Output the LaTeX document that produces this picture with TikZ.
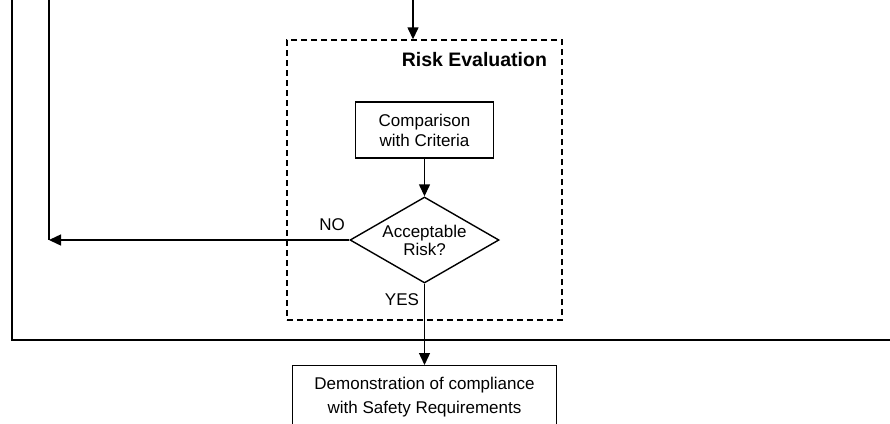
\documentclass[tikz,border=0pt]{standalone}
\usepackage{fontspec}
\setmainfont{Liberation Sans}
\usetikzlibrary{arrows.meta,shapes.geometric}

\begin{document}
\begin{tikzpicture}[x=1pt,y=-1pt,
    line width=1.4pt,
    >={Triangle[length=12pt,width=11pt]},
    box/.style={draw, align=center, font=\fontsize{17}{20}\selectfont},
    decision/.style={draw, diamond, aspect=1.73, inner sep=0pt, minimum width=149pt, minimum height=86pt, align=center, font=\fontsize{17}{18}\selectfont},
    evalbox/.style={draw, dash pattern=on 6pt off 4pt, minimum width=275pt, minimum height=280pt},
    tag/.style={font=\fontsize{17}{20}\selectfont}]
  \useasboundingbox (0,0) rectangle (890,423);
  \draw (12,0) -- (12,340) -- (890,340);
  \node[evalbox] (eval) at (424.5,180) {};
  \node[anchor=east, font=\bfseries\fontsize{19.5}{22}\selectfont] (title) at (551,60) {Risk Evaluation};
  \node[box, minimum width=138pt, minimum height=56pt] (comp) at (424.5,130) {Comparison\\with Criteria};
  \node[decision] (acc) at (424.5,240) {Acceptable\\Risk?};
  \node[box, anchor=north, minimum width=264pt, inner ysep=11.5pt, font=\fontsize{17}{24}\selectfont] (demo) at (424.5,365) {Demonstration of compliance\\with Safety Requirements};
  \coordinate (top) at (413,0);
  \coordinate (back) at (49,240);
  \draw[->] (top) -- (top |- eval.north);
  \draw[->] (comp) -- (acc);
  \draw (49,0) -- (back);
  \draw[->] (acc.west) -- (back);
  \draw[->] (acc.south) -- (demo.north);
  \node[tag, anchor=east] (no) at (349,225) {NO};
  \node[tag] (yes) at (402,300) {YES};
\end{tikzpicture}
\end{document}
